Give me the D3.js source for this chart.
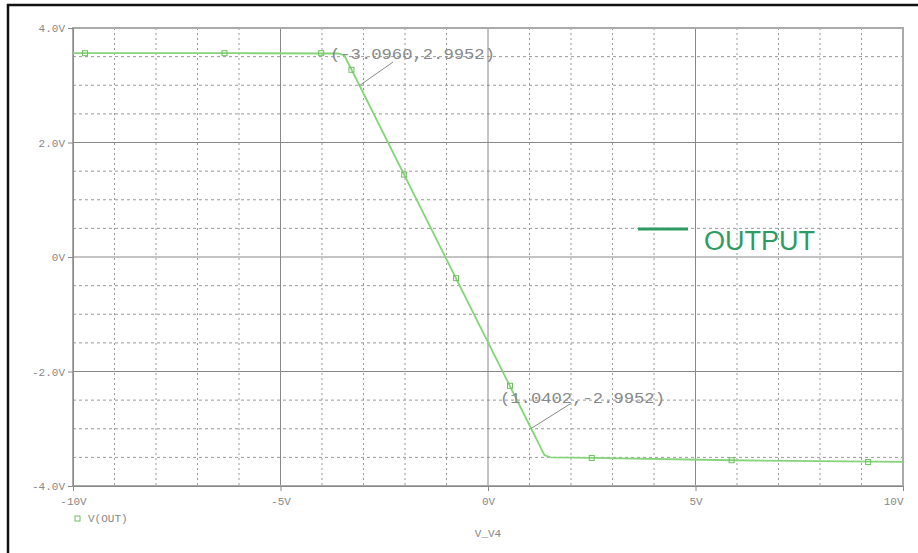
<!DOCTYPE html>
<html>
<head>
<meta charset="utf-8">
<script src="https://cdn.jsdelivr.net/npm/d3@7"></script>
<style>
  body { margin: 0; background: #fff; }
  svg { display: block; }
  .tick text { font-family: "Liberation Mono", monospace; fill: #888; }
</style>
</head>
<body>
<div id="chart"></div>
<script>
// sweep V_V4 (volts) vs V(OUT) (volts)
var sweepV = [-10, -6, -3.6, -3.46, -3.096, 1.0402, 1.36, 1.5, 2.5, 5.87, 10]
var outV   = [3.56, 3.56, 3.555, 3.52, 2.9952, -2.9952, -3.46, -3.50, -3.51, -3.55, -3.58]

// trace markers as they appear on the curve
var markX = [-9.71, -6.35, -4.02, -3.29, -2.02, -0.77, 0.53, 2.5, 5.87, 9.16]
var markY = [3.56, 3.56, 3.56, 3.27, 1.44, -0.37, -2.25, -3.51, -3.55, -3.58]

var xTicks = [-10, -5, 0, 5, 10]
var yTicks = [-4, -2, 0, 2, 4]

var cursors = [
  {x: -3.096, y: 2.9952, label: '(-3.0960,2.9952)'},
  {x: 1.0402, y: -2.9952, label: '(1.0402,-2.9952)'}
]

var W = 918, H = 553
var svg = d3.select('#chart').append('svg')
  .attr('width', W).attr('height', H)

// outer black frame (runs off the right and bottom)
svg.append('rect')
  .attr('x', 8).attr('y', 5).attr('width', 930).attr('height', 580)
  .attr('fill', 'none').attr('stroke', '#111').attr('stroke-width', 2.5)

var x = d3.scaleLinear().domain([-10, 10]).range([73, 903])
var y = d3.scaleLinear().domain([-4, 4]).range([486, 28])

var grid = svg.append('g')

// minor grid: 1V in x, 0.5V in y
grid.selectAll('.mx').data(d3.range(-9, 10).filter(v => v % 5 !== 0))
  .enter().append('line')
  .attr('x1', d => x(d)).attr('x2', d => x(d))
  .attr('y1', y(4)).attr('y2', y(-4))
  .attr('stroke', '#999').attr('stroke-dasharray', '2,3')

grid.selectAll('.my').data(d3.range(-3.5, 4, 0.5).filter(v => v % 2 !== 0))
  .enter().append('line')
  .attr('y1', d => y(d)).attr('y2', d => y(d))
  .attr('x1', x(-10)).attr('x2', x(10))
  .attr('stroke', '#999').attr('stroke-dasharray', '3,3')

// major grid
grid.selectAll('.Mx').data(xTicks.slice(1, -1))
  .enter().append('line')
  .attr('x1', d => x(d)).attr('x2', d => x(d))
  .attr('y1', y(4)).attr('y2', y(-4))
  .attr('stroke', '#888')

grid.selectAll('.My').data(yTicks.slice(1, -1))
  .enter().append('line')
  .attr('y1', d => y(d)).attr('y2', d => y(d))
  .attr('x1', x(-10)).attr('x2', x(10))
  .attr('stroke', '#888')

// plot border
svg.append('rect')
  .attr('x', x(-10)).attr('y', y(4))
  .attr('width', x(10) - x(-10)).attr('height', y(-4) - y(4))
  .attr('fill', 'none').attr('stroke', '#aaa').attr('stroke-width', 2)

var fmtY = v => v === 0 ? '0V' : (v < 0 ? '-' : '') + Math.abs(v).toFixed(1) + 'V'
var fmtX = v => (v < 0 ? '-' : '') + Math.abs(v) + 'V'

var yAxis = svg.append('g')
  .attr('transform', 'translate(' + x(-10) + ',0)')
  .call(d3.axisLeft(y).tickValues(yTicks).tickFormat(fmtY).tickSize(5).tickPadding(3))
yAxis.select('.domain').attr('stroke', '#888')
yAxis.selectAll('.tick line').attr('stroke', '#888')
yAxis.selectAll('.tick text').attr('font-size', 11)

var xAxis = svg.append('g')
  .attr('transform', 'translate(0,' + y(-4) + ')')
  .call(d3.axisBottom(x).tickValues(xTicks).tickFormat(fmtX).tickSize(5).tickPadding(6))
xAxis.select('.domain').attr('stroke', '#888')
xAxis.selectAll('.tick line').attr('stroke', '#888')
xAxis.selectAll('.tick text').attr('font-size', 11)
  .attr('text-anchor', d => d === 10 ? 'end' : 'middle')

// trace
var pts = sweepV.map((v, i) => [v, outV[i]])
svg.append('path')
  .datum(pts)
  .attr('d', d3.line().x(d => x(d[0])).y(d => y(d[1])))
  .attr('fill', 'none').attr('stroke', '#86d47a').attr('stroke-width', 1.8)

svg.selectAll('.mk').data(markX.map((v, i) => [v, markY[i]]))
  .enter().append('rect')
  .attr('x', d => x(d[0]) - 2.5).attr('y', d => y(d[1]) - 2.5)
  .attr('width', 5).attr('height', 5)
  .attr('fill', 'none').attr('stroke', '#6fbf60').attr('stroke-width', 1)

// cursor labels
var tpos = [[330, 59, 393, 62], [500, 403, 570, 404]]
cursors.forEach(function(c, i) {
  var p = tpos[i]
  svg.append('line')
    .attr('x1', p[2]).attr('y1', p[3])
    .attr('x2', x(c.x)).attr('y2', y(c.y))
    .attr('stroke', '#888')
  svg.append('text')
    .attr('x', p[0]).attr('y', p[1])
    .attr('textLength', 165).attr('lengthAdjust', 'spacingAndGlyphs')
    .attr('font-family', 'Liberation Mono, monospace').attr('font-size', 15)
    .attr('fill', '#888')
    .text(c.label)
})

// bottom legend and axis title
svg.append('rect')
  .attr('x', 75).attr('y', 516).attr('width', 5).attr('height', 5)
  .attr('fill', 'none').attr('stroke', '#6fbf60')
svg.append('text')
  .attr('x', 88).attr('y', 522)
  .attr('font-family', 'Liberation Mono, monospace').attr('font-size', 11)
  .attr('fill', '#888').text('V(OUT)')
svg.append('text')
  .attr('x', x(0)).attr('y', 537).attr('text-anchor', 'middle')
  .attr('font-family', 'Liberation Mono, monospace').attr('font-size', 11)
  .attr('fill', '#888').text('V_V4')

// OUTPUT legend
svg.append('line')
  .attr('x1', 638).attr('x2', 688).attr('y1', 229).attr('y2', 229)
  .attr('stroke', '#2e9c62').attr('stroke-width', 3)
svg.append('text')
  .attr('x', 704).attr('y', 250)
  .attr('font-family', 'Liberation Sans, Arial, sans-serif').attr('font-size', 27)
  .attr('fill', '#2e9c62').text('OUTPUT')
</script>
</body>
</html>
